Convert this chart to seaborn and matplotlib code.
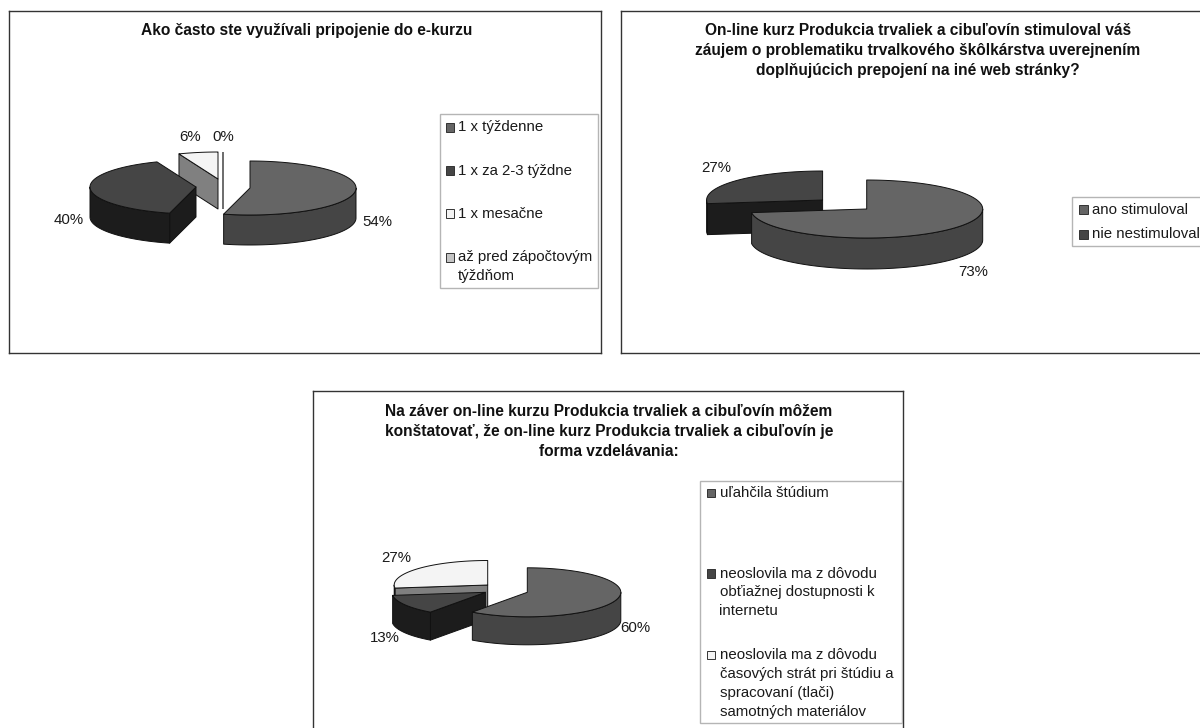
import numpy as np
import matplotlib
matplotlib.use("Agg")
import matplotlib.pyplot as plt
from matplotlib.patches import Polygon, Rectangle
import seaborn as sns

sns.set_theme(style="white")
plt.rcParams['font.family'] = ['Liberation Sans', 'DejaVu Sans']

# ---- data ----
title_1 = "Ako často ste využívali pripojenie do e-kurzu"
labels_1 = ["1 x týždenne", "1 x za 2-3 týždne", "1 x mesačne", "až pred zápočtovým\ntýždňom"]
values_1 = [54, 40, 6, 0]

title_2 = ("On-line kurz Produkcia trvaliek a cibuľovín stimuloval váš\n"
           "záujem o problematiku trvalkového škôlkárstva uverejnením\n"
           "doplňujúcich prepojení na iné web stránky?")
labels_2 = ["ano stimuloval", "nie nestimuloval"]
values_2 = [73, 27]

title_3 = ("Na záver on-line kurzu Produkcia trvaliek a cibuľovín môžem\n"
           "konštatovať, že on-line kurz Produkcia trvaliek a cibuľovín je\n"
           "forma vzdelávania:")
labels_3 = ["uľahčila štúdium",
            "neoslovila ma z dôvodu\nobťiažnej dostupnosti k\ninternetu",
            "neoslovila ma z dôvodu\nčasových strát pri štúdiu a\nspracovaní (tlači)\nsamotných materiálov"]
values_3 = [60, 13, 27]

top_cols = sns.color_palette(["#656565", "#454545", "#f4f4f4", "#c4c4c4"])
side_cols = sns.color_palette(["#454545", "#1c1c1c", "#808080", "#808080"])
EDGE = "#111111"
TXT = "#1a1a1a"
FS = 10.8
TFS = 11.2

W, H = 1200, 728
fig = plt.figure(figsize=(W / 100, H / 100), dpi=100)
fig.patch.set_facecolor("white")


def panel(l, t, r, b):
    ax = fig.add_axes([l / W, 1 - b / H, (r - l) / W, (b - t) / H])
    ax.set_xlim(l, r)
    ax.set_ylim(b, t)
    ax.set_xticks([])
    ax.set_yticks([])
    for s in ax.spines.values():
        s.set_color("#333333")
        s.set_linewidth(1.0)
    return ax


def pie_slice(ax, c, i, a0, a1, apex, rx, ry, d):
    ax_, ay = apex

    def rim(a, dz=0.0):
        a = np.radians(a)
        return np.column_stack([ax_ + rx * np.sin(a), ay - ry * np.cos(a) + dz])

    def add(pts, col, z):
        ax.add_patch(Polygon(pts, closed=True, fc=col, ec=EDGE, lw=0.7, zorder=z, joinstyle="round"))

    z = c * 3 + 2
    P = np.array([[ax_, ay]])
    if a1 - a0 <= 0:
        # empty slice: only its upright cut is seen, edge on
        ax.plot([ax_, ax_], [ay - ry, ay + d], color="#444444", lw=1.1, zorder=z, solid_capstyle="butt")
        return
    if np.sin(np.radians(a0)) < -1e-6:
        e = rim(a0)
        add(np.vstack([P, e, e + [0, d], P + [0, d]]), side_cols[i], z)
    if np.sin(np.radians(a1)) > 1e-6:
        e = rim(a1)
        add(np.vstack([P, e, e + [0, d], P + [0, d]]), side_cols[i], z)
    s0, s1 = max(a0, 90), min(a1, 270)
    if s1 > s0:
        t = np.linspace(s0, s1, 80)
        add(np.vstack([rim(t), rim(t[::-1], d)]), side_cols[i], z + 0.5)
    t = np.linspace(a0, a1, 160)
    add(np.vstack([P, rim(t)]), top_cols[i], z + 1)


def pie(ax, values, apexes, order, rx, ry, d):
    edges = np.concatenate([[0], np.cumsum(values)]) / sum(values) * 360
    for c, i in enumerate(order):
        pie_slice(ax, c, i, edges[i], edges[i + 1], apexes[i], rx, ry, d)


def pcts(ax, values, xy):
    for v, (x, y) in zip(values, xy):
        ax.text(x, y, f"{v}%", ha="center", va="center", fontsize=FS, color=TXT, zorder=30)


def legend(ax, box, sw_x, txt_x, labels, ys, lsp):
    x0, y0, x1, y1 = box
    ax.add_patch(Rectangle((x0, y0), x1 - x0, y1 - y0, fc="white", ec="#b5b5b5", lw=1.0, zorder=25))
    for i, (lab, y) in enumerate(zip(labels, ys)):
        ax.add_patch(Rectangle((sw_x, y - 4), 8.5, 8.5, fc=top_cols[i], ec="#333333", lw=0.7, zorder=26))
        ax.text(txt_x, y - 6.5, lab, ha="left", va="top", fontsize=FS, color=TXT,
                linespacing=lsp, zorder=27)


def title(ax, x, y, s):
    ax.text(x, y, s, ha="center", va="center", fontsize=TFS, fontweight="bold",
            color="#111111", linespacing=1.4)


# Panel 1
a1 = panel(9, 11, 601, 353)
title(a1, 306.5, 30, title_1)
pie(a1, values_1, [(250, 188), (196, 187), (218, 179), (222.5, 179)], [3, 2, 0, 1], 106, 27, 30)
pcts(a1, values_1, [(377, 222), (69, 220), (190, 137), (223, 137)])
legend(a1, (439.5, 114, 597.5, 288), 445.5, 458, labels_1, [127, 170, 213, 257], 1.45)

# Panel 2
a2 = panel(621, 11, 1215, 353)
title(a2, 918, 50.5, title_2)
pie(a2, values_2, [(866.7, 209), (822.6, 200)], [1, 0], 116, 29, 31)
pcts(a2, values_2, [(973, 272), (716, 168)])
legend(a2, (1072, 197, 1225, 246), 1079, 1092, labels_2, [209, 234], 1.45)

# Panel 3
a3 = panel(313, 391, 903, 740)
title(a3, 609, 431.5, title_3)
pie(a3, values_3, [(527.3, 592.3), (485.4, 592.3), (487.7, 585)], [2, 1, 0], 93.5, 24.5, 28)
pcts(a3, values_3, [(635, 628), (385, 638), (396.5, 558)])
legend(a3, (700, 480.5, 901.5, 723), 706.5, 719.5, labels_3, [492.5, 573, 654.5], 1.45)

fig.savefig("out.png", dpi=100)
